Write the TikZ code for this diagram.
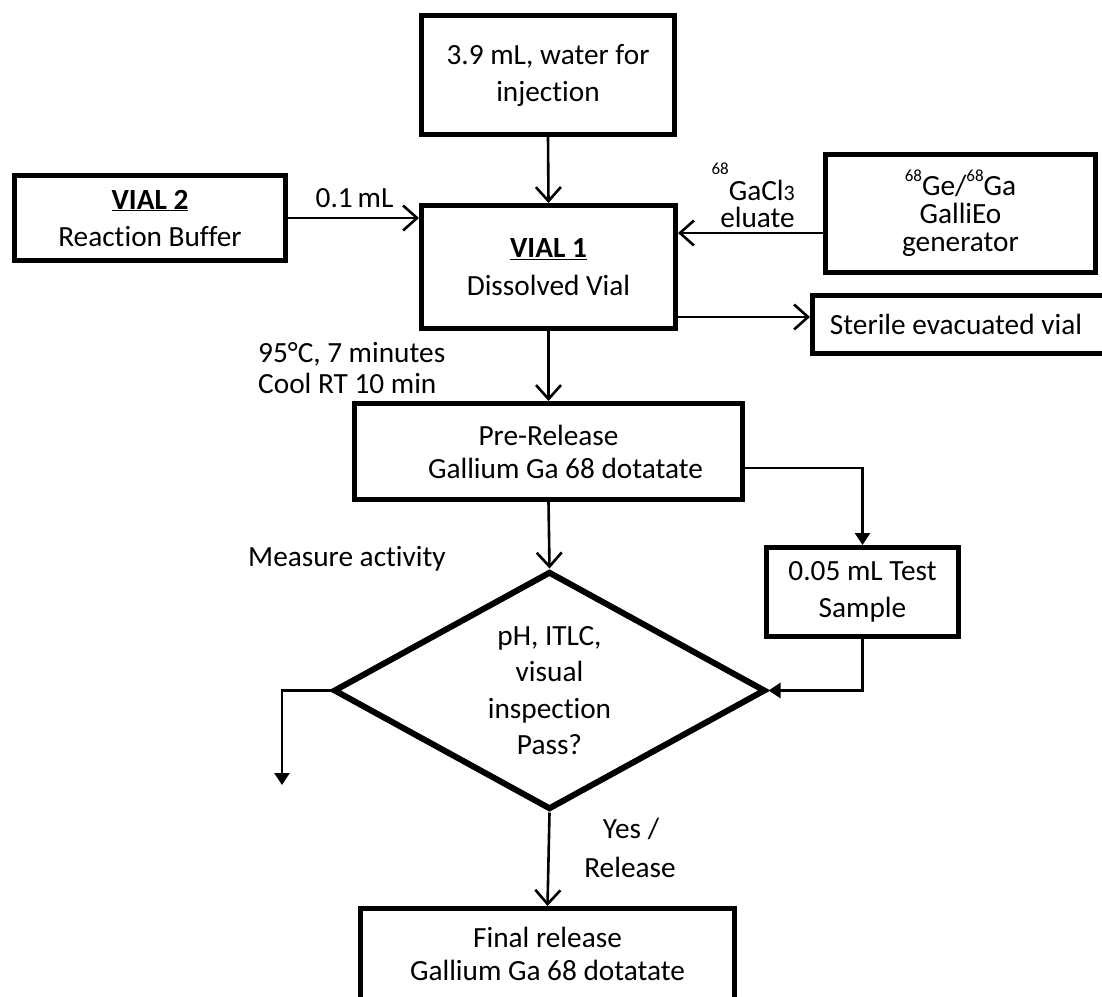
\documentclass[tikz,border=0pt]{standalone}
\usepackage{fontspec}
\setmainfont{Carlito}[RawFeature=-liga]
\usetikzlibrary{arrows.meta,shapes.geometric}
\newcommand\isot[2]{\raisebox{#1}{\fontsize{17}{17}\selectfont #2}}
\begin{document}
\begin{tikzpicture}[x=1pt,y=-1pt,
  box/.style={draw, line width=5pt, rectangle, inner sep=0pt, align=center,
    font=\fontsize{29.3}{37}\selectfont},
  dia/.style={draw, line width=6pt, diamond, aspect=1.8, inner sep=0pt, align=center,
    minimum width=432pt, minimum height=238pt, font=\fontsize{29.3}{36.5}\selectfont},
  lbl/.style={inner sep=0pt, font=\fontsize{29.3}{36}\selectfont},
  conn/.style={line width=2.6pt},
  barb/.style={conn, -{Straight Barb[length=14pt,width=25pt]}},
  filled/.style={conn, -{Triangle[length=12pt,width=15pt]}},
]
\useasboundingbox (0,0) rectangle (1102,996);
\fill[white] (0,0) rectangle (1102,996);
\clip (0,0) rectangle (1102,996);

% boxes
\node[box, minimum width=253pt, minimum height=119pt] (top) at (548,75)
  {3.9 mL, water for\\injection};
\node[box, minimum width=271pt, minimum height=85pt] (vial2) at (150,218)
  {\textbf{\underline{VIAL 2}}\\Reaction Buffer};
\node[box, minimum width=254pt, minimum height=123pt,
  font=\fontsize{29.3}{38}\selectfont] (vial1) at (548.5,267)
  {\textbf{\underline{VIAL 1}}\\Dissolved Vial};
\node[box, minimum width=270pt, minimum height=118pt,
  font=\fontsize{29.3}{28}\selectfont] (gen) at (960.5,213.5)
  {\isot{14pt}{68}Ge/\isot{14pt}{68}Ga\\GalliEo\\generator};
\node[box, minimum width=295pt, minimum height=58pt] (ster) at (960,324.5)
  {\hspace*{-4pt}Sterile evacuated vial\hspace*{4pt}};
\node[box, minimum width=388pt, minimum height=96pt,
  font=\fontsize{29.3}{33}\selectfont] (pre) at (548.5,451.5)
  {Pre-Release\\\hspace*{34pt}Gallium Ga 68 dotatate};
\node[box, minimum width=192pt, minimum height=89pt] (test) at (862.5,592)
  {0.05 mL Test\\Sample};
\node[dia] (dec) at (549.5,690.5) {pH, ITLC,\\visual\\inspection\\Pass?};
\node[box, minimum width=374pt, minimum height=91pt,
  font=\fontsize{29.3}{33}\selectfont] (final) at (547.5,954)
  {Final release\\Gallium Ga 68 dotatate};
\coordinate (fail) at (282,785);

% labels
\node[lbl, anchor=base] (l01) at (354.5,207) {0.1\,mL};
\node[lbl, anchor=south east, align=right, font=\fontsize{29.3}{27}\selectfont]
  (lga) at (795,228)
  {\isot{26pt}{68}GaCl{\fontsize{22}{22}\selectfont 3}\\eluate};
\node[lbl, anchor=base west] (lt1) at (258,362) {95°C, 7 minutes};
\node[lbl, anchor=base west] (lt2) at (258,393) {Cool RT 10 min};
\node[lbl, anchor=base west] (lma) at (248,566) {Measure activity};
\node[lbl, anchor=base] (lyes) at (631,838) {Yes /};
\node[lbl, anchor=base] (lrel) at (630,877) {Release};

% connectors
\draw[barb] (top.south) -- (vial1.north);
\draw[barb] (vial2.east) -- (vial2.east -| vial1.west);
\draw[barb] (gen.west |- 0,233) -- (vial1.east |- 0,233);
\draw[barb] (vial1.east |- 0,317) -- (ster.west |- 0,317);
\draw[barb] (vial1.south) -- (pre.north -| vial1.south);
\draw[barb] (pre.south) -- (dec.north);
\draw[filled] (pre.east |- 0,468) -| (test.north);
\draw[filled] (test.south) |- (dec.east);
\draw[filled] (dec.west) -| (fail);
\draw[barb] (dec.south) -- (final.north);
\end{tikzpicture}
\end{document}
